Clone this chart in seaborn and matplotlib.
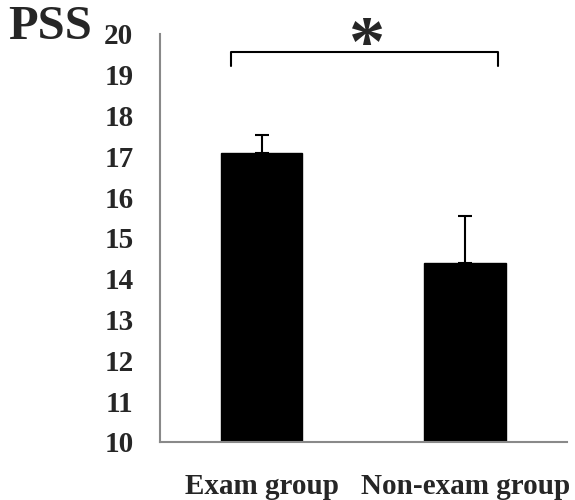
import numpy as np
import pandas as pd
import matplotlib
matplotlib.use("Agg")
import matplotlib.pyplot as plt
import seaborn as sns

# du lieu doc tu hinh
groups = ["Exam group", "Non-exam group"]
pss_mean = [17.09, 14.38]
pss_err = [0.44, 1.16]
y_ticks = list(range(10, 21))
sig_level = 19.56
sig_leg = 19.22

sns.set_style("white")
plt.rcParams['font.family'] = ['Liberation Serif', 'DejaVu Serif']

df = pd.DataFrame({"group": groups, "pss": pss_mean})

fig = plt.figure(figsize=(5.75, 5.0), dpi=100)
ax = fig.add_axes([0.278, 0.116, 0.708, 0.816])

sns.barplot(data=df, x="group", y="pss", color="black", width=0.4,
            saturation=1, errorbar=None, ax=ax)
for p in ax.patches:
    p.set_edgecolor("black")

# error bars (chi phia tren)
ax.errorbar(range(len(groups)), pss_mean, yerr=[[0] * len(groups), pss_err],
            fmt="none", ecolor="black", elinewidth=1.5, capsize=5, capthick=1.5)

ax.set_ylim(10, 20)
ax.set_xlim(-0.5, 1.5)
ax.set_yticks(y_ticks)
ax.set_yticklabels([str(t) for t in y_ticks], fontsize=21, fontweight="bold")

ax.set_xticks([-0.5, 0.5, 1.5])
ax.set_xticklabels([])
ax.set_xticks([0, 1], minor=True)
ax.set_xticklabels(groups, minor=True, fontsize=21, fontweight="bold")
ax.tick_params(axis="x", which="minor", length=0, pad=22)
ax.tick_params(axis="x", which="major", length=6, width=1.2, color="#898989", direction="out")
ax.tick_params(axis="y", length=7, width=1.2, color="#898989", direction="out", pad=12)

ax.set_xlabel("")
ax.set_ylabel("")
sns.despine(ax=ax)
for s in ["left", "bottom"]:
    ax.spines[s].set_color("#898989")
    ax.spines[s].set_linewidth(1.5)

# dau * y nghia
ax.plot([-0.15, -0.15, 1.16, 1.16], [sig_leg, sig_level, sig_level, sig_leg],
        color="black", lw=1.5, clip_on=False)
ax.text(0.52, 19.66, "*", ha="center", va="center",
        fontsize=52, fontweight="bold", clip_on=False)

fig.text(0.014, 0.946, "PSS", fontsize=35, fontweight="bold", ha="left", va="center")

plt.savefig("out.png", dpi=100)
